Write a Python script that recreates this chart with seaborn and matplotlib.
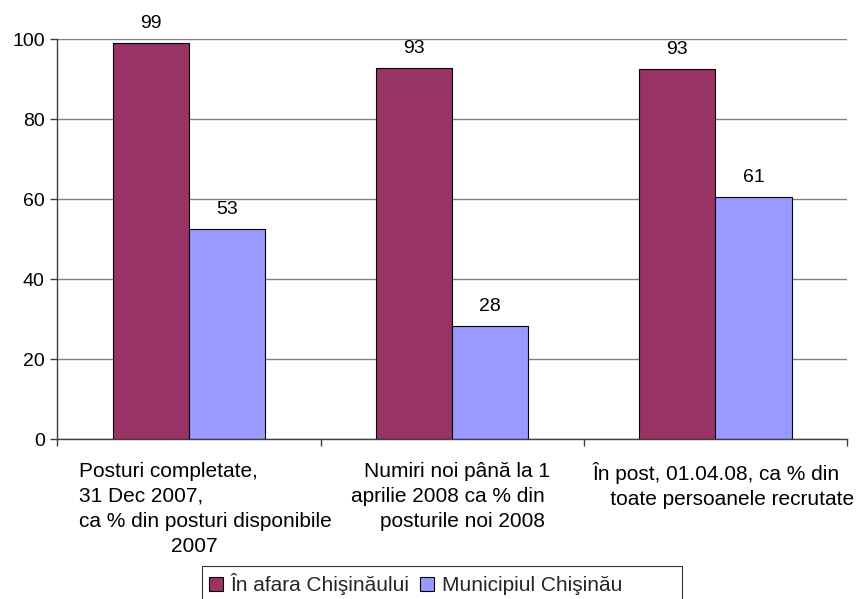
import matplotlib
matplotlib.use("Agg")
import matplotlib.pyplot as plt
import matplotlib.transforms as mtransforms
from matplotlib.patches import Patch
import seaborn as sns
import pandas as pd

categories = [
    "Posturi completate,\n31 Dec 2007,\nca % din posturi disponibile\n                2007",
    "Numiri noi până la 1\naprilie 2008 ca % din \nposturile noi 2008 ",
    "În post, 01.04.08, ca % din\n   toate persoanele recrutate",
]
series_names = ["În afara Chişinăului", "Municipiul Chişinău"]
outside = [99.0, 92.9, 92.6]
municipal = [52.6, 28.4, 60.6]
yticks = [0, 20, 40, 60, 80, 100]
colors = ["#993366", "#9999FF"]

df = pd.DataFrame({
    "cat": categories * 2,
    "series": [series_names[0]] * 3 + [series_names[1]] * 3,
    "value": outside + municipal,
})

sns.set_theme(style="white")
plt.rcParams["font.family"] = ["Liberation Sans", "DejaVu Sans"]

fig = plt.figure(figsize=(8.59, 5.99), dpi=100)
ax = fig.add_axes([57.3 / 859, 1 - 439.3 / 599, (847 - 57.3) / 859, 400 / 599])

sns.barplot(data=df, x="cat", y="value", hue="series", order=categories,
            hue_order=series_names, palette=colors, width=0.58, gap=0,
            edgecolor="black", linewidth=0.8, saturation=1, ax=ax, legend=False,
            errorbar=None)

for cont in ax.containers:
    ax.bar_label(cont, fmt="%.0f", padding=8, fontsize=14, color="black")

ax.set_xlim(-0.5, 2.5)
ax.set_ylim(0, 100)
ax.set_yticks(yticks)
ax.set_yticklabels([str(v) for v in yticks], fontsize=14, color="black")
ax.yaxis.grid(True, color="#808080", linewidth=1)
ax.set_axisbelow(True)
ax.set_xlabel("")
ax.set_ylabel("")

for s in ["top", "right"]:
    ax.spines[s].set_visible(False)
for s in ["left", "bottom"]:
    ax.spines[s].set_color("#404040")
    ax.spines[s].set_linewidth(1)

ax.tick_params(axis="y", which="major", left=True, length=5, width=1,
               color="#404040", pad=4)
ax.set_xticks([0, 1, 2])
ax.set_xticks([-0.5, 0.5, 1.5, 2.5], minor=True)
ax.tick_params(axis="x", which="major", length=0, pad=16)
ax.tick_params(axis="x", which="minor", bottom=True, length=5, width=1,
               color="#404040")

shifts = [(16, "left"), (-1.5, "right"), (8, "left")]
labels = ax.get_xticklabels()
for lab, (dx, ma) in zip(labels, shifts):
    lab.set_fontsize(15)
    lab.set_color("black")
    lab.set_multialignment(ma)
    lab.set_linespacing(1.4)
    lab.set_transform(lab.get_transform() +
                      mtransforms.ScaledTranslation(dx / 100, 0, fig.dpi_scale_trans))

handles = [Patch(facecolor=c, edgecolor="black", linewidth=0.8) for c in colors]
leg_labels = [series_names[0], series_names[1] + "         "]
leg = fig.legend(handles, leg_labels, loc="upper left",
                 bbox_to_anchor=(201.7 / 859, 1 - 565.7 / 599),
                 ncol=2, fontsize=15, frameon=True, fancybox=False,
                 handlelength=0.65, handleheight=0.65, handletextpad=0.4,
                 columnspacing=0.5, borderpad=0.35, borderaxespad=0)
leg.get_frame().set_edgecolor("black")
leg.get_frame().set_linewidth(0.8)

fig.savefig("out.png", dpi=100)
